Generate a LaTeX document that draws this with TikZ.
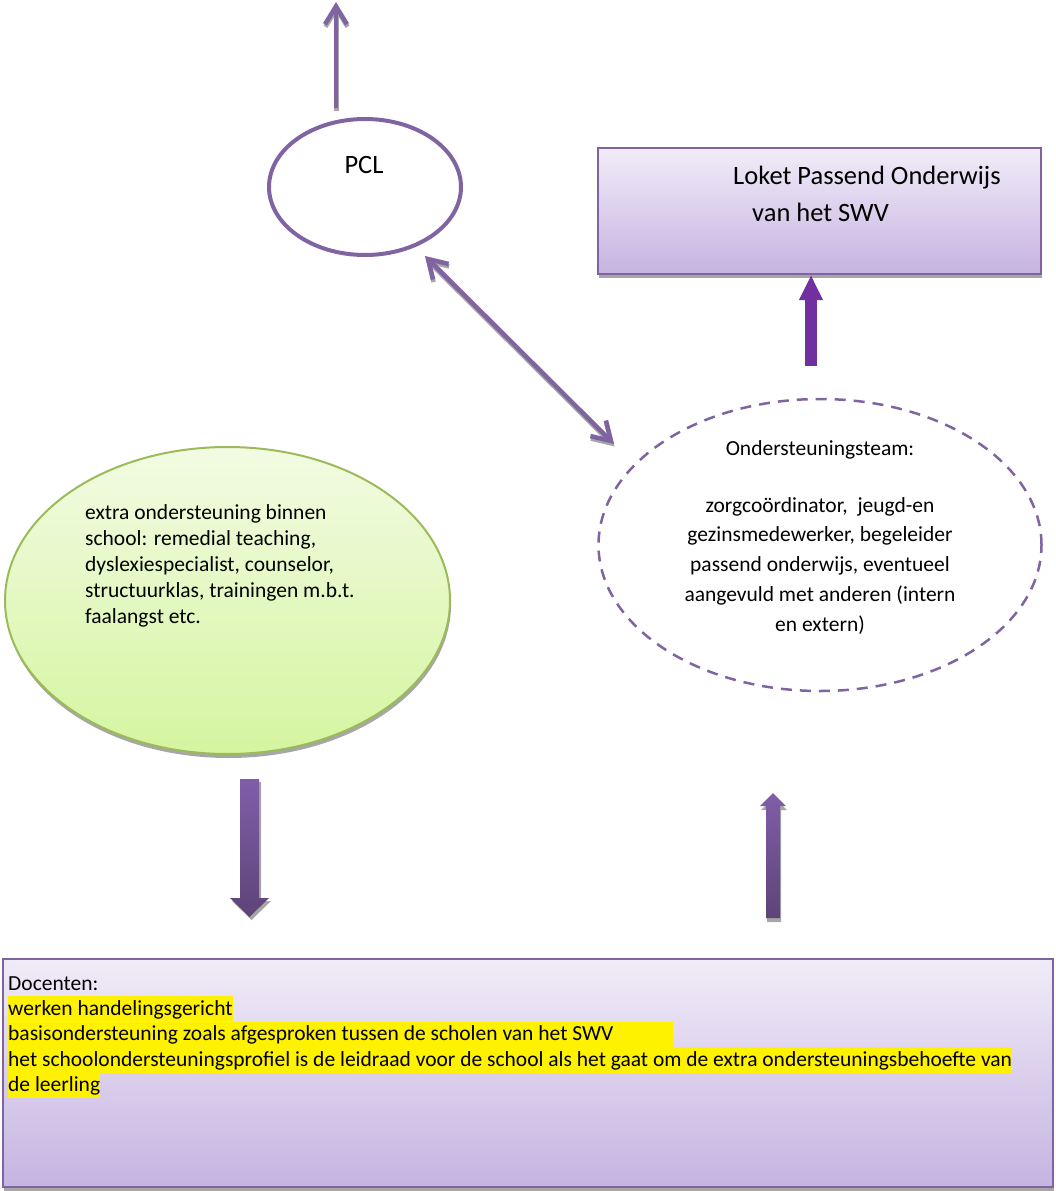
\documentclass[tikz,border=0pt]{standalone}
\usepackage{fontspec}
\setmainfont{Carlito}
\usetikzlibrary{arrows.meta,shapes.geometric,shadows,calc}
\definecolor{pline}{HTML}{8064A2}
\definecolor{pdark}{HTML}{7030A0}
\definecolor{lilacT}{HTML}{F1ECF8}
\definecolor{lilacB}{HTML}{C6B3E1}
\definecolor{greenT}{HTML}{F2FBE3}
\definecolor{greenB}{HTML}{D5F5A0}
\definecolor{greenL}{HTML}{9BBB59}
\definecolor{arrT}{HTML}{805EAA}
\definecolor{arrB}{HTML}{5D4478}
\definecolor{shad}{HTML}{A6A6A6}
\tikzset{myBarb/.tip={Straight Barb[length=18pt,width=22pt]}}
\begin{document}
\begin{tikzpicture}[x=1pt,y=-1pt,
  txt/.style={inner sep=0pt, font=\fontsize{21.5pt}{26pt}\selectfont},
  bigtxt/.style={inner sep=0pt, font=\fontsize{26.5pt}{32pt}\selectfont},
  openarrow/.style={line width=4.5pt, draw=pline},
  shadowarrow/.style={line width=4.5pt, draw=shad, transform canvas={xshift=0.5pt,yshift=-2.5pt}},
  hl/.style={txt, anchor=base west, fill=yellow, text height=19pt, text depth=6.3pt},
  softshadow/.style={drop shadow={shadow xshift=1pt,shadow yshift=-4pt,fill=shad,opacity=1}},
  lilacbox/.style={rectangle, draw=pline, line width=2pt, top color=lilacT, bottom color=lilacB, softshadow},
  blockarrow/.style={top color=arrT, bottom color=arrB, draw=none},
]
\useasboundingbox (0,0) rectangle (1056,1191);

% top arrow from PCL
\coordinate (topS) at (336,108);
\coordinate (topE) at (336,2);
\draw[shadowarrow, -myBarb] (topS) -- (topE);
\draw[openarrow, -myBarb] (topS) -- (topE);

% PCL
\node[ellipse, draw=pline, line width=4pt, minimum width=192pt, minimum height=136pt, inner sep=0pt] (pcl) at (365,187) {};
\node[bigtxt, anchor=base] (pcltxt) at (364,173) {PCL};

% Loket
\node[lilacbox, minimum width=443pt, minimum height=126pt] (loket) at (819.5,211) {};
\node[bigtxt, anchor=base west] (lok1) at (733,184) {Loket Passend Onderwijs};
\node[bigtxt, anchor=base west] (lok2) at (752,221) {van het SWV};

% arrow to Loket
\coordinate (lkS) at (811,366);
\draw[line width=12pt, draw=pdark, -{Triangle[length=25pt,width=22pt]}] (lkS) -- (lkS |- loket.south);

% double arrow
\coordinate (dA) at (425,256);
\coordinate (dB) at (614,444);
\draw[shadowarrow, myBarb-myBarb] (dA) -- (dB);
\draw[openarrow, myBarb-myBarb] (dA) -- (dB);

% Ondersteuningsteam
\node[ellipse, draw=pline, line width=2.5pt, dash pattern=on 11pt off 8pt, minimum width=443pt, minimum height=292pt, inner sep=0pt] (team) at (820,545) {};
\node[txt, font=\fontsize{21.5pt}{29.7pt}\selectfont, align=center, anchor=base] (teamtxt) at (820,631) {Ondersteuningsteam:\\[27pt]zorgcoördinator,\ \ jeugd-en\\gezinsmedewerker, begeleider\\passend onderwijs, eventueel\\aangevuld met anderen (intern\\en extern)};

% extra ondersteuning
\node[ellipse, draw=greenL, line width=2pt, top color=greenT, bottom color=greenB, minimum width=445pt, minimum height=307pt, inner sep=0pt, softshadow] (extra) at (227.5,600.5) {};
\node[txt, align=left, anchor=base west] (extratxt) at (85,623) {extra ondersteuning binnen\\school: remedial teaching,\\dyslexiespecialist, counselor,\\structuurklas, trainingen m.b.t.\\faalangst etc.};

% block arrows
\fill[shad, shift={(2,3)}] (240,779) -- (259,779) -- (259,898) -- (269,898) -- (249.5,917) -- (230,898) -- (240,898) -- cycle;
\path[blockarrow] (240,779) -- (259,779) -- (259,898) -- (269,898) -- (249.5,917) -- (230,898) -- (240,898) -- cycle;
\fill[shad, shift={(1,4)}] (766,918) -- (780,918) -- (780,806) -- (786,806) -- (773,793) -- (760,806) -- (766,806) -- cycle;
\path[blockarrow] (766,918) -- (780,918) -- (780,806) -- (786,806) -- (773,793) -- (760,806) -- (766,806) -- cycle;

% Docenten box
\node[lilacbox, minimum width=1050pt, minimum height=228pt] (doc) at (528,1073) {};
\node[txt, anchor=base west] (d0) at (8,990) {Docenten:};
\node[hl] (d1) at (8,1015) {werken handelingsgericht};
\node[hl] (d2) at (8,1040.6) {\makebox[665pt][l]{basisondersteuning zoals afgesproken tussen de scholen van het SWV}};
\node[hl] (d3) at (8,1066.2) {het schoolondersteuningsprofiel is de leidraad voor de school als het gaat om de extra ondersteuningsbehoefte van};
\node[hl] (d4) at (8,1091.8) {de leerling};
\end{tikzpicture}
\end{document}
